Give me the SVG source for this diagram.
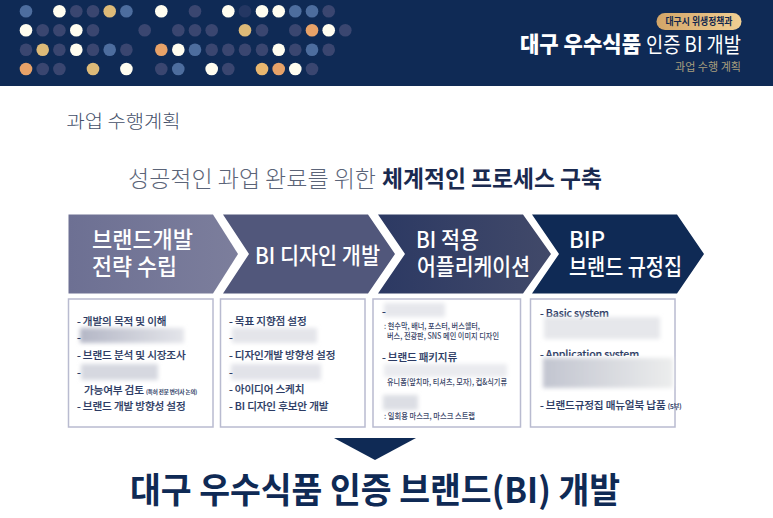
<svg xmlns="http://www.w3.org/2000/svg" width="773" height="518" viewBox="0 0 773 518">
<style>
text{font-family:"Noto Sans CJK KR","Noto Sans",sans-serif}
.d{fill:#3a4670}.k{fill:#243763}.w{fill:#fffdf0}.b{fill:#4d6d9e}.t{fill:#ddba78}.o{fill:#e8a268}.l{fill:#e9b76f}
.h{fill:#fff;font-weight:500;font-size:22.5px}
.i{fill:#2b3a63;font-size:10.6px;font-weight:500;letter-spacing:-.15px;stroke:#2b3a63;stroke-width:.15}
.s{fill:#3a4668;font-size:8.3px;font-weight:500}
.box{fill:#fff;stroke:#b9bbd0;stroke-width:1.5}
.bl{filter:url(#bl)}
</style>
<defs>
<filter id="bl" x="-10%" y="-30%" width="120%" height="160%"><feGaussianBlur stdDeviation="2"/></filter>
<linearGradient id="g1"><stop offset="0" stop-color="#6d7093"/><stop offset="1" stop-color="#7c7e9c"/></linearGradient>
<linearGradient id="g3"><stop offset="0" stop-color="#2c3963"/><stop offset="1" stop-color="#414969"/></linearGradient>
<linearGradient id="pill"><stop offset="0" stop-color="#d2a568"/><stop offset="1" stop-color="#f1cf93"/></linearGradient>
<linearGradient id="bg1"><stop offset="0" stop-color="#b4b7c6"/><stop offset="1" stop-color="#e4e5ea"/></linearGradient>
<linearGradient id="bg2"><stop offset="0" stop-color="#c2c5d0"/><stop offset="1" stop-color="#eceded"/></linearGradient>
</defs>
<rect width="773" height="518" fill="#fff"/>
<g id="header">
<rect width="773" height="86" fill="#0f2a55"/>
<g id="dots">
<circle class="b" cx="26" cy="11.3" r="6.3"/><circle class="w" cx="59.4" cy="11.3" r="6.3"/><circle class="d" cx="76.3" cy="11.3" r="6.3"/><circle class="d" cx="93" cy="11.3" r="6.3"/><circle class="t" cx="109.7" cy="11.3" r="6.3"/><circle class="b" cx="126.4" cy="11.3" r="6.3"/><circle class="w" cx="161.3" cy="11.3" r="6.3"/><circle class="d" cx="195" cy="11.3" r="6.3"/><circle class="w" cx="228.3" cy="11.3" r="6.3"/><circle class="k" cx="245" cy="11.3" r="6.3"/><circle class="w" cx="262" cy="11.3" r="6.3"/><circle class="w" cx="278.7" cy="11.3" r="6.3"/><circle class="b" cx="295.3" cy="11.3" r="6.3"/><circle class="b" cx="312" cy="11.3" r="6.3"/><circle class="d" cx="328.7" cy="11.3" r="6.3"/>
<circle class="w" cx="26" cy="30.3" r="6.3"/><circle class="d" cx="42.7" cy="30.3" r="6.3"/><circle class="d" cx="59.4" cy="30.3" r="6.3"/><circle class="w" cx="76.3" cy="30.3" r="6.3"/><circle class="d" cx="93" cy="30.3" r="6.3"/><circle class="d" cx="144.7" cy="30.3" r="6.3"/><circle class="d" cx="178.3" cy="30.3" r="6.3"/><circle class="d" cx="195" cy="30.3" r="6.3"/><circle class="d" cx="211.7" cy="30.3" r="6.3"/><circle class="t" cx="245" cy="30.3" r="6.3"/><circle class="d" cx="262" cy="30.3" r="6.3"/><circle class="d" cx="295.3" cy="30.3" r="6.3"/><circle class="o" cx="312" cy="30.3" r="6.3"/><circle class="w" cx="328.7" cy="30.3" r="6.3"/><circle class="d" cx="345.3" cy="30.3" r="6.3"/>
<circle class="d" cx="26" cy="49.7" r="6.3"/><circle class="t" cx="42.7" cy="49.7" r="6.3"/><circle class="d" cx="59.4" cy="49.7" r="6.3"/><circle class="w" cx="76.3" cy="49.7" r="6.3"/><circle class="d" cx="93" cy="49.7" r="6.3"/><circle class="b" cx="109.7" cy="49.7" r="6.3"/><circle class="d" cx="126.4" cy="49.7" r="6.3"/><circle class="o" cx="161.3" cy="49.7" r="6.3"/><circle class="w" cx="178.3" cy="49.7" r="6.3"/><circle class="b" cx="195" cy="49.7" r="6.3"/><circle class="d" cx="211.7" cy="49.7" r="6.3"/><circle class="d" cx="228.3" cy="49.7" r="6.3"/><circle class="d" cx="245" cy="49.7" r="6.3"/><circle class="d" cx="262" cy="49.7" r="6.3"/><circle class="w" cx="278.7" cy="49.7" r="6.3"/><circle class="d" cx="295.3" cy="49.7" r="6.3"/><circle class="b" cx="312" cy="49.7" r="6.3"/><circle class="d" cx="328.7" cy="49.7" r="6.3"/>
<circle class="o" cx="26" cy="69" r="6.3"/><circle class="d" cx="42.7" cy="69" r="6.3"/><circle class="d" cx="59.4" cy="69" r="6.3"/><circle class="t" cx="93" cy="69" r="6.3"/><circle class="w" cx="126.4" cy="69" r="6.3"/><circle class="d" cx="161.3" cy="69" r="6.3"/><circle class="b" cx="178.3" cy="69" r="6.3"/><circle class="w" cx="211.7" cy="69" r="6.3"/><circle class="d" cx="228.3" cy="69" r="6.3"/><circle class="l" cx="262" cy="69" r="6.3"/><circle class="o" cx="278.7" cy="69" r="6.3"/><circle class="w" cx="295.3" cy="69" r="6.3"/><circle class="d" cx="312" cy="69" r="6.3"/>
</g>
<rect x="656.5" y="13" width="85" height="17" rx="8.5" fill="url(#pill)"/>
<text x="665.5" y="25.3" font-size="9.7" font-weight="700" fill="#10264d" textLength="67" lengthAdjust="spacingAndGlyphs">대구시 위생정책과</text>
<text x="520" y="52" font-size="21.5" font-weight="800" fill="#fff" textLength="121" lengthAdjust="spacingAndGlyphs">대구 우수식품</text>
<text x="646" y="52" font-size="21" font-weight="400" fill="#fff" textLength="95" lengthAdjust="spacingAndGlyphs">인증 BI 개발</text>
<text x="675" y="71" font-size="11.5" fill="#a89f7e" textLength="66" lengthAdjust="spacingAndGlyphs">과업 수행 계획</text>
</g>
<text x="66.5" y="128" font-size="18.5" fill="#44506a" font-weight="300" textLength="114" lengthAdjust="spacingAndGlyphs">과업 수행계획</text>
<text x="128" y="187" font-size="23" fill="#5b6478" font-weight="300" textLength="248" lengthAdjust="spacingAndGlyphs">성공적인 과업 완료를 위한</text>
<text x="382" y="187" font-size="23" fill="#1a2a50" font-weight="700" textLength="220" lengthAdjust="spacingAndGlyphs">체계적인 프로세스 구축</text>
<g id="step1"><polygon points="68.5,214.5 213,214.5 238,254 213,293.5 68.5,293.5" fill="url(#g1)"/>
<text class="h" x="92" y="248" textLength="101" lengthAdjust="spacingAndGlyphs">브랜드개발</text><text class="h" x="92" y="275" textLength="85" lengthAdjust="spacingAndGlyphs">전략 수립</text></g>
<g id="step2"><polygon points="223,214.5 368,214.5 395,254 368,293.5 223,293.5 249,254" fill="#51577b"/>
<text class="h" x="255" y="264" textLength="125" lengthAdjust="spacingAndGlyphs">BI 디자인 개발</text></g>
<g id="step3"><polygon points="378,214.5 523,214.5 551,254 523,293.5 378,293.5 405,254" fill="url(#g3)"/>
<text class="h" x="416" y="248" textLength="63" lengthAdjust="spacingAndGlyphs">BI 적용</text><text class="h" x="417" y="275" textLength="113" lengthAdjust="spacingAndGlyphs">어플리케이션</text></g>
<g id="step4"><polygon points="532,214.5 677,214.5 704,254 677,293.5 532,293.5 559,254" fill="#0f2a55"/>
<text class="h" x="569" y="248" textLength="36" lengthAdjust="spacingAndGlyphs">BIP</text><text class="h" x="569" y="275" textLength="113" lengthAdjust="spacingAndGlyphs">브랜드 규정집</text></g>
<g id="box1"><rect class="box" x="68.5" y="299" width="144.5" height="128"/>
<rect class="bl" x="80" y="328" width="104" height="15" style="fill:url(#bg1)"/>
<rect class="bl" x="81" y="364" width="77" height="16" style="fill:#d6d8e0"/>
<text class="i" x="77" y="325">- 개발의 목적 및 이해</text><text class="i" x="77" y="341">-</text>
<text class="i" x="77" y="359">- 브랜드 분석 및 시장조사</text><text class="i" x="77" y="376">-</text>
<text class="i" x="84" y="394">가능여부 검토 <tspan font-size="5.5">(특허 전문 변리사 논의)</tspan></text>
<text class="i" x="77" y="410">- 브랜드 개발 방향성 설정</text></g>
<g id="box2"><rect class="box" x="220.5" y="299" width="144.5" height="128"/>
<rect class="bl" x="232" y="328" width="85" height="15" style="fill:#e4e5ea"/>
<rect class="bl" x="231" y="364" width="90" height="16" style="fill:#e2e3e9"/>
<text class="i" x="229" y="325">- 목표 지향점 설정</text><text class="i" x="229" y="341">-</text>
<text class="i" x="229" y="359">- 디자인개발 방향성 설정</text><text class="i" x="229" y="376">-</text>
<text class="i" x="229" y="393">- 아이디어 스케치</text><text class="i" x="229" y="410">- BI 디자인 후보안 개발</text></g>
<g id="box3"><rect class="box" x="373" y="299" width="147.5" height="128"/>
<rect class="bl" x="384" y="303" width="61" height="14" style="fill:#e6e7ec"/>
<rect class="bl" x="384" y="364" width="123" height="13" style="fill:#eaebef"/>
<rect class="bl" x="383" y="395" width="35" height="15" style="fill:#dcdee4"/>
<text class="i" x="382" y="315">-</text>
<text class="s" x="384" y="329" textLength="96" lengthAdjust="spacingAndGlyphs">: 현수막, 배너, 포스터, 버스쉘터,</text>
<text class="s" x="387" y="339" textLength="112" lengthAdjust="spacingAndGlyphs">버스, 전광판, SNS 메인 이미지 디자인</text>
<text class="i" x="382" y="361" textLength="75" lengthAdjust="spacingAndGlyphs">- 브랜드 패키지류</text>
<text class="s" x="387" y="385" textLength="120" lengthAdjust="spacingAndGlyphs">유니폼(앞치마, 티셔츠, 모자), 컵&amp;식기류</text>
<text class="s" x="384" y="419" textLength="91" lengthAdjust="spacingAndGlyphs">: 일회용 마스크, 마스크 스트랩</text></g>
<g id="box4"><rect class="box" x="530.5" y="299" width="144.5" height="128"/>
<text class="i" x="540" y="317">- Basic system</text>
<text class="i" x="540" y="358">- Application system</text>
<rect class="bl" x="544" y="317" width="116" height="22" style="fill:#e6e7eb"/>
<rect x="542" y="356" width="132" height="33" fill="#fff"/>
<rect class="bl" x="543" y="358" width="130" height="30" style="fill:url(#bg2)"/>
<text class="i" x="540" y="409">- 브랜드규정집 매뉴얼북 납품 <tspan font-size="6.5">(5부)</tspan></text></g>
<polygon id="arrow" points="334,438 416,438 375,460" fill="#0f2a55"/>
<text x="130" y="503" font-size="35" font-weight="700" fill="#0f2a55" textLength="490" lengthAdjust="spacingAndGlyphs">대구 우수식품 인증 브랜드(BI) 개발</text>
</svg>
